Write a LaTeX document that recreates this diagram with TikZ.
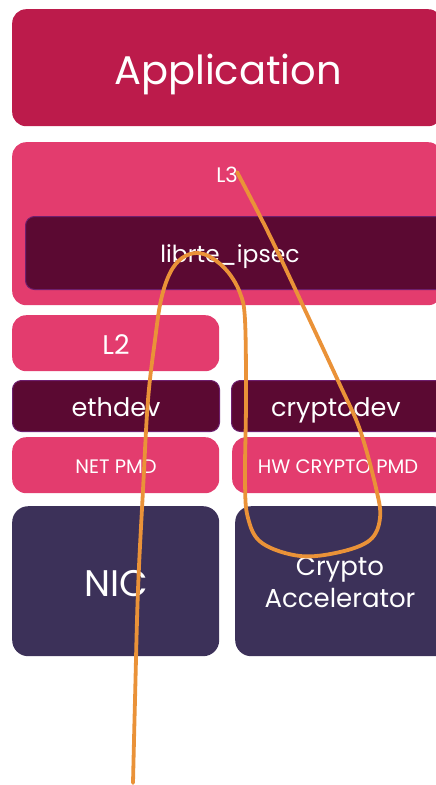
\documentclass[tikz,border=0pt]{standalone}
\usepackage{fontspec}
\setmainfont{Poppins}
\definecolor{appred}{HTML}{BC1B4B}
\definecolor{layerpink}{HTML}{E33C6E}
\definecolor{libdark}{HTML}{5B0932}
\definecolor{libedge}{HTML}{6E1F6E}
\definecolor{hwnavy}{HTML}{3C3159}
\definecolor{pathorange}{HTML}{EA9238}
\newcommand{\fsz}[1]{\fontsize{#1}{#1}\selectfont}
\begin{document}
\begin{tikzpicture}[x=1pt,y=-1pt,
  blk/.style={rounded corners=14pt, inner sep=0pt, anchor=north west},
  pinkblk/.style={blk, fill=layerpink},
  darkblk/.style={blk, fill=libdark, draw=libedge, line width=1pt, rounded corners=9pt},
  hwblk/.style={blk, fill=hwnavy, rounded corners=16pt},
  lbl/.style={text=white, inner sep=0pt, anchor=base, align=center},
  flow/.style={draw=pathorange, line width=3.8pt, line cap=round, line join=round}
]
\useasboundingbox (0,0) rectangle (436,785);
\clip (0,0) rectangle (436,785);

% application layer
\node[blk, fill=appred, minimum width=430pt, minimum height=117pt] (app) at (12,9) {};
\node[lbl, font=\fsz{40}] (apptxt) at (228,84) {Application};

% L3 with the IPsec library inside
\node[pinkblk, minimum width=430pt, minimum height=163pt] (l3) at (12,142) {};
\node[lbl, font=\fsz{21}] (l3txt) at (227,182) {L3};
\node[darkblk, minimum width=420pt, minimum height=73pt] (ipsec) at (25,216) {};
\node[lbl, font=\fsz{23.5}] (ipsectxt) at (230,262) {librte\_ipsec};

% network side
\node[pinkblk, minimum width=207pt, minimum height=56pt] (l2) at (12,315) {};
\node[lbl, font=\fsz{27}] (l2txt) at (116,354) {L2};
\node[darkblk, minimum width=207pt, minimum height=51pt] (eth) at (12,380) {};
\node[lbl, font=\fsz{25.5}] (ethtxt) at (116,416) {ethdev};
\node[pinkblk, minimum width=207pt, minimum height=56pt] (netpmd) at (12,437) {};
\node[lbl, font=\fsz{19.5}] (netpmdtxt) at (116,473) {NET PMD};
\node[hwblk, minimum width=207pt, minimum height=150pt] (nic) at (12,506) {};
\node[lbl, font=\fsz{37}] (nictxt) at (116,596) {NIC};

% crypto side
\node[darkblk, minimum width=215pt, minimum height=51pt] (crypto) at (231,380) {};
\node[lbl, font=\fsz{25.5}] (cryptotxt) at (336,416) {cryptodev};
\node[pinkblk, minimum width=215pt, minimum height=56pt] (hwpmd) at (232,437) {};
\node[lbl, font=\fsz{19.5}] (hwpmdtxt) at (338,473) {HW CRYPTO PMD};
\node[hwblk, minimum width=215pt, minimum height=150pt] (accel) at (235,506) {};
\node[lbl, font=\fsz{26}] (cryptoline) at (340,575) {Crypto};
\node[lbl, font=\fsz{26}] (accelline) at (340,607) {Accelerator};

% packet path
\coordinate (pin) at (133,783);
\coordinate (pout) at (237,172);
\draw[flow] plot[smooth, tension=0.6] coordinates {
  (pin) (135,700) (138,590) (143,490) (148,400) (155,340) (161,300)
  (170,273) (182,258) (197,253) (212,258) (228,272) (240,293) (245,320)
  (246,400) (245,480) (248,518) (262,543) (300,556) (340,552) (370,540)
  (380,518) (376,488) (360,430) (340,385) (305,310) (268,232) (pout)};
\end{tikzpicture}
\end{document}
